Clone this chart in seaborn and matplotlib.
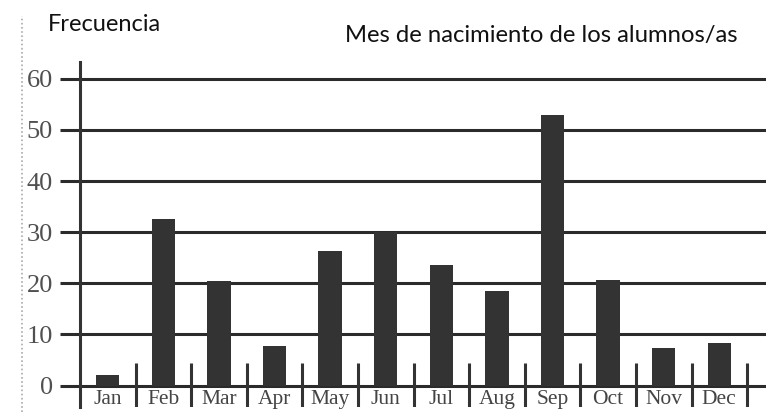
import matplotlib
matplotlib.use("Agg")
import matplotlib.pyplot as plt
import seaborn as sns
import pandas as pd

months = ["Jan", "Feb", "Mar", "Apr", "May", "Jun", "Jul", "Aug", "Sep", "Oct", "Nov", "Dec"]
freq = [2, 32.5, 20.5, 7.8, 26.3, 30, 23.6, 18.4, 53, 20.7, 7.3, 8.3]
yticks = [0, 10, 20, 30, 40, 50, 60]
title_left = "Frecuencia"
title_right = "Mes de nacimiento de los alumnos/as"

sns.set_theme(style="white")
plt.rcParams['font.family'] = ['Liberation Serif', 'DejaVu Serif']

W, H = 766, 412
fig = plt.figure(figsize=(W / 100, H / 100), dpi=100)
ax = fig.add_axes([80 / W, 5 / H, (W - 80) / W, (407 - 62) / H])

df = pd.DataFrame({"month": months, "freq": freq})
sns.barplot(data=df, x="month", y="freq", color="#333333", saturation=1,
            width=0.42, ax=ax, zorder=3, edgecolor="none")

ax.set_xlim(-0.5, 11.84)
ax.set_ylim(-4.2, 63.3)
ax.set_yticks(yticks)
ax.set_yticklabels([str(v) for v in yticks], fontsize=19, color="#505050")
ax.tick_params(axis="y", length=14.4, width=2.2, color="#2b2b2b", pad=5, left=True)
ax.yaxis.grid(True, color="#2b2b2b", lw=2.2, zorder=1)
ax.xaxis.grid(False)
ax.set_xticks([])
ax.set_xlabel("")
ax.set_ylabel("")
for s in ["top", "right", "bottom"]:
    ax.spines[s].set_visible(False)
ax.spines["left"].set_color("#333333")
ax.spines["left"].set_linewidth(2.2)
ax.spines["left"].set_zorder(4)

# category dividers
ax.vlines([i + 0.5 for i in range(len(months))], -4.2, 4.4, color="#333333", lw=2.2, zorder=4)

for i, m in enumerate(months):
    ax.text(i, -2.8, m, ha="center", va="center", fontsize=15.5, color="#444444")

fig.text(48 / W, 1 - 31 / H, title_left, family=["Lato", "DejaVu Sans"], fontsize=17,
         color="#111111", ha="left", va="baseline")
fig.text(345 / W, 1 - 42 / H, title_right, family=["Lato", "DejaVu Sans"], fontsize=17.2,
         color="#111111", ha="left", va="baseline")

# dotted frame line on the left
fig.add_artist(plt.Line2D([22 / W, 22 / W], [0, 0.96], transform=fig.transFigure,
                          color="#aaaaaa", lw=1.2, ls=(0, (1, 1.5))))

fig.savefig("out.png", dpi=100)
